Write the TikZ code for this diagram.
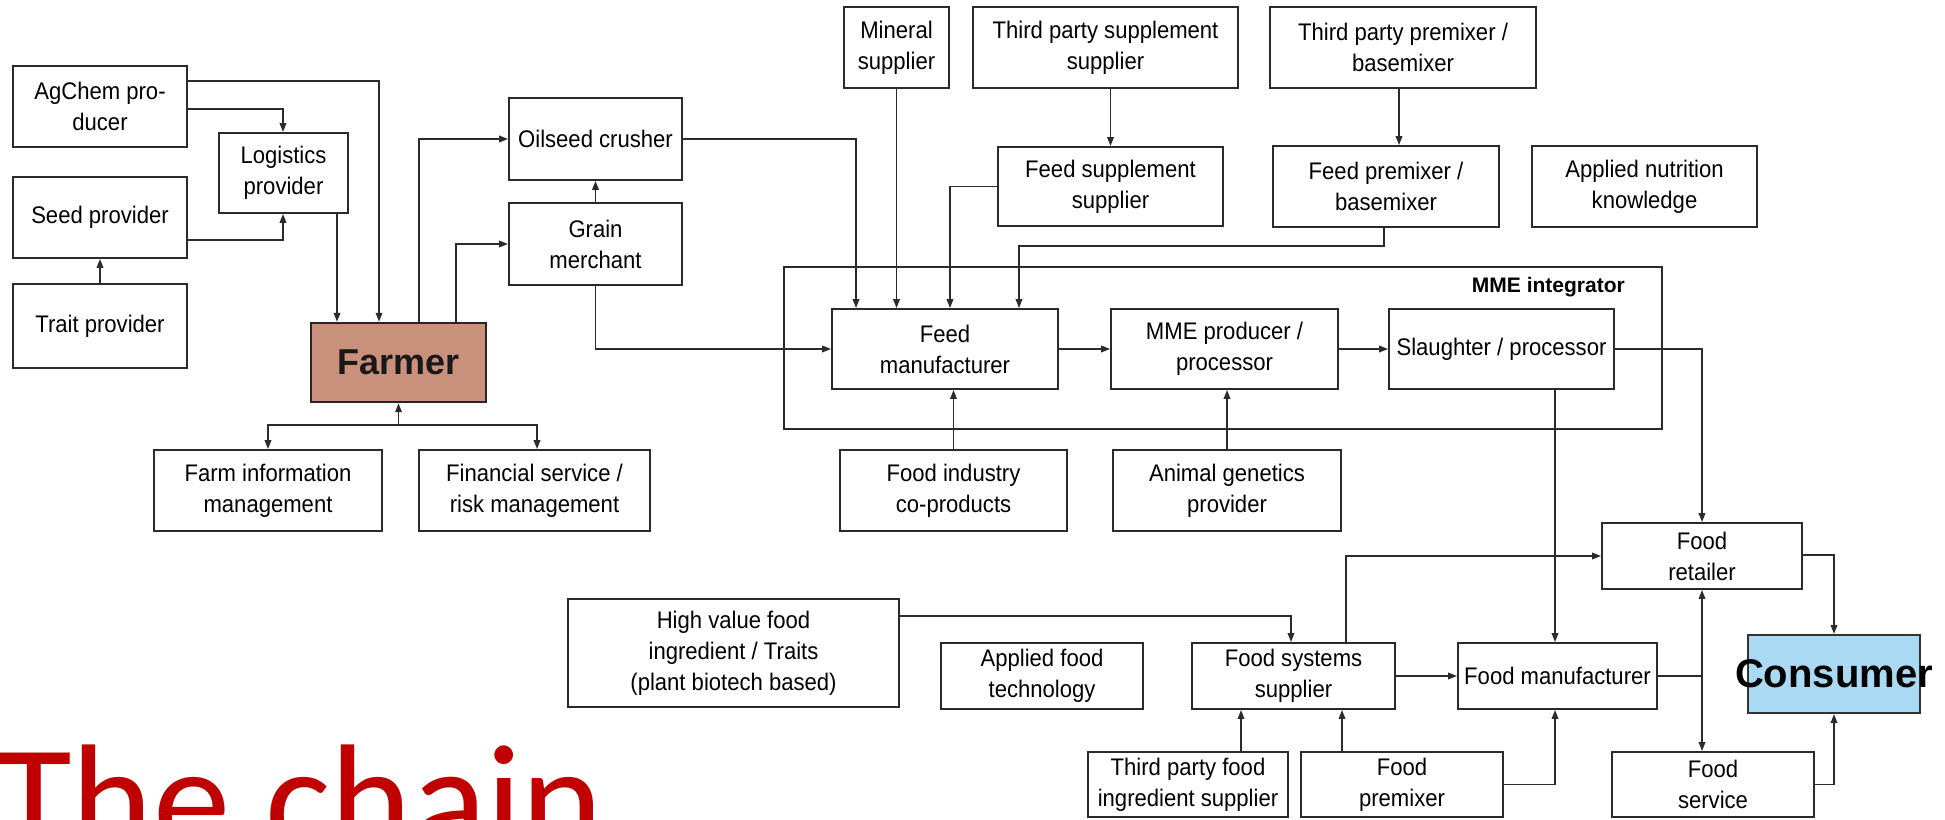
\documentclass[tikz,border=0pt]{standalone}
\usepackage{fontspec}
\setmainfont{Liberation Sans}[FakeStretch=0.92]
\newfontfamily\headfont{Liberation Sans}
\newfontfamily\titlefont{Carlito}
\usetikzlibrary{arrows.meta}
\definecolor{ink}{HTML}{2B2B2B}
\definecolor{farmerfill}{HTML}{C9917B}
\definecolor{consumerfill}{HTML}{A9D9F3}
\definecolor{chainred}{HTML}{C00000}
% box given by its corners: name, x1, y1, x2, y2, label
\newcommand\bx[6]{\node[box, minimum width={(#4)-(#2)}, minimum height={(#5)-(#3)}] (#1) at ({((#2)+(#4))/2},{((#3)+(#5))/2}) {#6};}
\begin{document}
\begin{tikzpicture}[x=1pt,y=-1pt,
  box/.style={draw=ink, line width=1.8pt, fill=white, inner sep=1pt, align=center,
              font=\fontsize{24}{31}\selectfont},
  arr/.style={draw=ink, line width=1.8pt, -{Triangle[length=9pt,width=6.5pt]}},
  link/.style={draw=ink, line width=1.8pt}]
\useasboundingbox (0,0) rectangle (1945,819);
\clip (0,0) rectangle (1945,819);
\fill[white] (0,0) rectangle (1945,819);

% integrator frame
\bx{mmeint}{784}{267}{1662}{429}{}
\node[anchor=east, inner sep=0, font=\headfont\bfseries\fontsize{21}{25}\selectfont] (mmelabel) at (1625,287) {MME integrator};

% farm side
\bx{agchem}{13}{66}{187}{147}{AgChem pro-\\ducer}
\bx{seed}{13}{177}{187}{258}{Seed provider}
\bx{trait}{13}{284}{187}{368}{Trait provider}
\bx{logist}{219}{133}{348}{213}{Logistics\\provider}
\node[box, fill=farmerfill, line width=2.4pt, draw=black!85, minimum width=175, minimum height=79] (farmer) at (398.5,362.5) {};
\node[font=\headfont\bfseries\fontsize{36}{40}\selectfont, text=black!90] (farmertext) at (farmer.center) {Farmer};
\bx{oilseed}{509}{98}{682}{180}{Oilseed crusher}
\bx{grain}{509}{203}{682}{285}{Grain\\merchant}
\bx{farminfo}{154}{450}{382}{531}{Farm information\\management}
\bx{finserv}{419}{450}{650}{531}{Financial service /\\risk management}

% feed side
\bx{mineral}{844}{7}{949}{88}{Mineral\\supplier}
\bx{tpsupp}{973}{7}{1238}{88}{Third party supplement\\supplier}
\bx{tppremix}{1270}{7}{1536}{88}{Third party premixer /\\basemixer}
\bx{feedsupp}{998}{147}{1223}{226}{Feed supplement\\supplier}
\bx{feedpremix}{1273}{146}{1499}{227}{Feed premixer /\\basemixer}
\bx{applnut}{1532}{146}{1757}{227}{Applied nutrition\\knowledge}
\bx{feedman}{832}{309}{1058}{389}{Feed\\manufacturer}
\bx{mmeprod}{1111}{309}{1338}{389}{MME producer /\\processor}
\bx{slaughter}{1389}{309}{1614}{389}{Slaughter / processor}
\bx{ficp}{840}{450}{1067}{531}{Food industry\\co-products}
\bx{agp}{1113}{450}{1341}{531}{Animal genetics\\provider}

% food side
\bx{retailer}{1602}{523}{1802}{589}{Food\\retailer}
\bx{highval}{568}{599}{899}{707}{High value food\\ingredient / Traits\\(plant biotech based)}
\bx{applfood}{941}{643}{1143}{709}{Applied food\\technology}
\bx{foodsys}{1192}{643}{1395}{709}{Food systems\\supplier}
\bx{foodman}{1458}{643}{1657}{709}{Food manufacturer}
\bx{tpfood}{1088}{752}{1288}{817}{Third party food\\ingredient supplier}
\bx{foodpremix}{1301}{752}{1503}{817}{Food\\premixer}
\bx{service}{1612}{752}{1814}{817}{Food\\service}

% connectors: farm side
\draw[arr] (agchem.east |- 0,81) -| (farmer.north -| 379,0);
\draw[arr] (agchem.east |- 0,109) -| (logist.north -| 283,0);
\draw[arr] (seed.east |- 0,240) -| (logist.south -| 283,0);
\draw[arr] (trait.north) -- (seed.south);
\draw[arr] (logist.south -| 337,0) -- (farmer.north -| 337,0);
\draw[arr] (farmer.north -| 419,0) |- (oilseed.west);
\draw[arr] (farmer.north -| 456,0) |- (grain.west);
\draw[arr] (grain.north) -- (oilseed.south);
\coordinate (fj) at (farmer.south |- 0,425);
\draw[arr] (fj) -- (farmer.south);
\draw[arr] (fj) -| (farminfo.north);
\draw[arr] (fj) -| (finserv.north -| 537,0);

% connectors: feed side
\draw[arr] (oilseed.east) -| (feedman.north -| 856,0);
\draw[arr] (grain.south) |- (feedman.west);
\draw[arr] (mineral.south) -- (feedman.north -| mineral.south);
\draw[arr] (tpsupp.south -| feedsupp.north) -- (feedsupp.north);
\draw[arr] (feedsupp.west) -| (feedman.north -| 950,0);
\draw[arr] (tppremix.south -| 1399,0) -- (feedpremix.north -| 1399,0);
\draw[arr] (feedpremix.south -| 1384,0) -- ++(0,18) -| (feedman.north -| 1019,0);
\draw[arr] (feedman.east) -- (mmeprod.west);
\draw[arr] (mmeprod.east) -- (slaughter.west);
\draw[arr] (ficp.north) -- (feedman.south -| ficp.north);
\draw[arr] (agp.north) -- (mmeprod.south -| agp.north);

% connectors: food side
\draw[arr] (slaughter.east) -| (retailer.north);
\draw[arr] (slaughter.south -| 1555,0) -- (foodman.north -| 1555,0);
\draw[arr] (highval.east |- 0,616) -| (foodsys.north -| 1291,0);
\draw[arr] (tpfood.north -| 1241,0) -- (foodsys.south -| 1241,0);
\draw[arr] (foodpremix.north -| 1342,0) -- (foodsys.south -| 1342,0);
\draw[arr] (foodsys.north -| 1346,0) |- (retailer.west);
\draw[arr] (foodsys.east) -- (foodman.west);
\draw[arr] (foodpremix.east) -| (foodman.south -| 1555,0);
\coordinate (fmj) at (foodman.east -| retailer.south);
\draw[link] (foodman.east) -- (fmj);
\draw[arr] (fmj) -- (retailer.south);
\draw[arr] (fmj) -- (service.north -| fmj);

% consumer
\node[box, fill=consumerfill, draw=black!80, line width=2pt, minimum width=172, minimum height=78] (consumer) at (1834,674) {};
\draw[arr] (retailer.east |- 0,555) -| (consumer.north);
\draw[arr] (service.east) -| (consumer.south);
\node[font=\headfont\bfseries\fontsize{40}{44}\selectfont, text=black] (consumertext) at (consumer.center) {Consumer};

% title
\node[anchor=base west, inner sep=0, text=chainred, font=\titlefont\fontsize{155}{155}\selectfont] (title) at (-4,852) {The chain};
\end{tikzpicture}
\end{document}
